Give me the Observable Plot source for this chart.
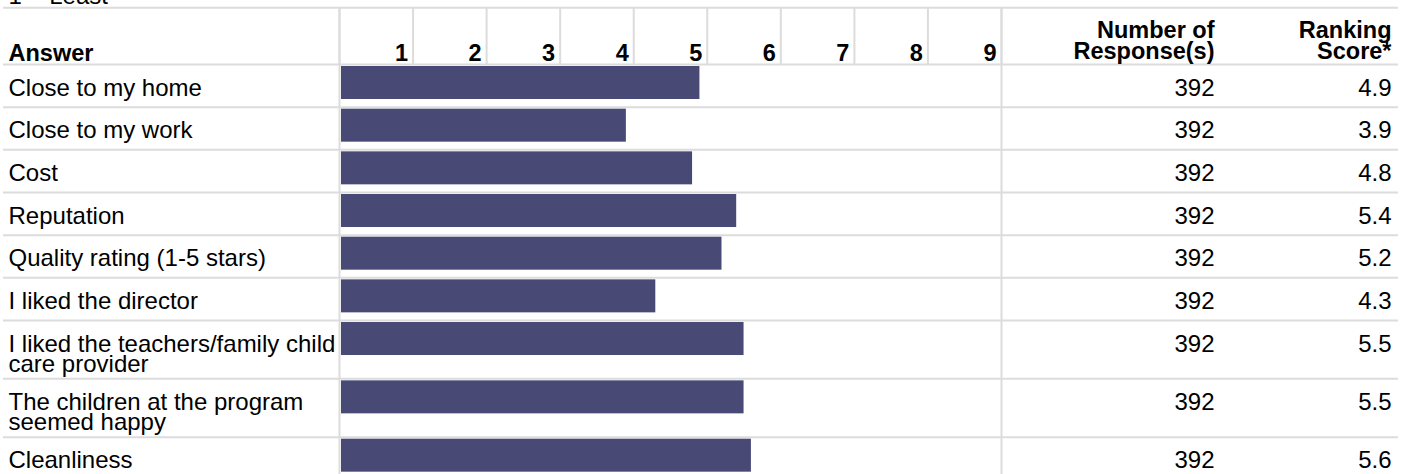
<!DOCTYPE html>
<html>
<head>
<meta charset="utf-8">
<script src="https://cdn.jsdelivr.net/npm/d3@7"></script>
<script src="https://cdn.jsdelivr.net/npm/@observablehq/plot@0.6"></script>
<style>
  html, body { margin: 0; padding: 0; background: #fff; }
  #chart svg { display: block; }
</style>
</head>
<body>
<div id="chart"></div>
<script>
// Answers (a "\n" marks where a long answer wraps onto a second line)
const answers = [
  "Close to my home",
  "Close to my work",
  "Cost",
  "Reputation",
  "Quality rating (1-5 stars)",
  "I liked the director",
  "I liked the teachers/family child\ncare provider",
  "The children at the program\nseemed happy",
  "Cleanliness"
];
const responses = [392, 392, 392, 392, 392, 392, 392, 392, 392];
const scores = [4.9, 3.9, 4.8, 5.4, 5.2, 4.3, 5.5, 5.5, 5.6];
const rankColumns = [1, 2, 3, 4, 5, 6, 7, 8, 9];
const headAnswer = "Answer";
const headResponses = "Number of\nResponse(s)";
const headScore = "Ranking\nScore*";
const scaleNote = "1 = Least";

// Table layout (pixels)
const W = 1410, H = 474;
const gridLeft = 339, gridRight = 1001;
const tableLeft = 3, tableRight = 1398;
const topLine = 7.3, headBottom = 64;
const rowSingle = 42.67, rowExtraLine = 15.66;
const textLeft = 8, colResponsesRight = 1214, colScoreRight = 1391;
const baseOffset = 31, lineGap = 20;
const headBase = 60, headTwoBase = 58, headGap = 21;
const barTop = 2, barHeight = 33;
const grid = "#dcdcdc", barFill = "#484a75";

// pixel -> rank-axis value, so table text can share the bar scale
const unit = (gridRight - gridLeft) / rankColumns.length;
const toV = px => (px - gridLeft) / unit;

// rows with their vertical extents
let cursor = headBottom;
const rows = answers.map((a, i) => {
  const lines = a.split("\n");
  const h = rowSingle + (lines.length - 1) * rowExtraLine;
  const r = {answer: a, lines, responses: responses[i], score: scores[i], top: cursor, bottom: cursor + h};
  cursor += h;
  return r;
});
const hLines = [topLine, headBottom, ...rows.map(r => r.bottom)];

// one text datum per rendered line
const answerLines = rows.flatMap(r => r.lines.map((t, j) => ({t, y: r.top + baseOffset + j * lineGap})));
const headLines = (s, right) => s.split("\n").map((t, j, arr) => ({t, x: right, y: headTwoBase - (arr.length - 1 - j) * headGap}));
const headers = [...headLines(headResponses, colResponsesRight), ...headLines(headScore, colScoreRight)];

const font = "'Liberation Sans', Arial, Helvetica, sans-serif";

const chart = Plot.plot({
  width: W,
  height: H,
  margin: 0,
  style: {fontFamily: font, background: "#fff", color: "#000"},
  x: {type: "linear", domain: [0, rankColumns.length], range: [gridLeft, gridRight], axis: null},
  y: {type: "linear", domain: [0, H], range: [0, H], axis: null},
  marks: [
    // horizontal row rules
    Plot.ruleY(hLines, {y: d => d, x1: toV(tableLeft), x2: toV(tableRight), stroke: grid, strokeWidth: 2}),
    // header column separators for the rank scale
    Plot.ruleX([0, ...rankColumns], {x: d => d, y1: topLine, y2: headBottom, stroke: grid, strokeWidth: 2}),
    // full-height borders of the bar column
    Plot.ruleX([0, rankColumns.length], {x: d => d, y1: topLine, y2: H + 2, stroke: grid, strokeWidth: 2}),
    // ranking score bars
    Plot.rect(rows, {
      x1: 0, x2: "score",
      y1: r => r.top + barTop, y2: r => r.top + barTop + barHeight,
      insetLeft: 2, fill: barFill
    }),
    // scale note above the table
    Plot.text([scaleNote], {x: toV(textLeft), y: 3, text: d => d, textAnchor: "start", lineAnchor: "bottom", fontSize: 24, fill: "#000"}),
    // header texts
    Plot.text([headAnswer], {x: toV(textLeft), y: headBase, text: d => d, textAnchor: "start", lineAnchor: "bottom", fontSize: 23.5, fontWeight: "bold", fill: "#000"}),
    Plot.text(rankColumns, {x: d => d, y: headBase, text: d => String(d), dx: -5, textAnchor: "end", lineAnchor: "bottom", fontSize: 23.5, fontWeight: "bold", fill: "#000"}),
    Plot.text(headers, {x: d => toV(d.x), y: "y", text: "t", textAnchor: "end", lineAnchor: "bottom", fontSize: 23.5, fontWeight: "bold", fill: "#000"}),
    // answer labels
    Plot.text(answerLines, {x: toV(textLeft), y: "y", text: "t", textAnchor: "start", lineAnchor: "bottom", fontSize: 24, fill: "#000"}),
    // response counts and scores
    Plot.text(rows, {x: toV(colResponsesRight), y: r => r.top + baseOffset, text: r => String(r.responses), textAnchor: "end", lineAnchor: "bottom", fontSize: 24, fill: "#000"}),
    Plot.text(rows, {x: toV(colScoreRight), y: r => r.top + baseOffset, text: r => r.score.toFixed(1), textAnchor: "end", lineAnchor: "bottom", fontSize: 24, fill: "#000"})
  ]
});
document.getElementById("chart").appendChild(chart);
</script>
</body>
</html>
